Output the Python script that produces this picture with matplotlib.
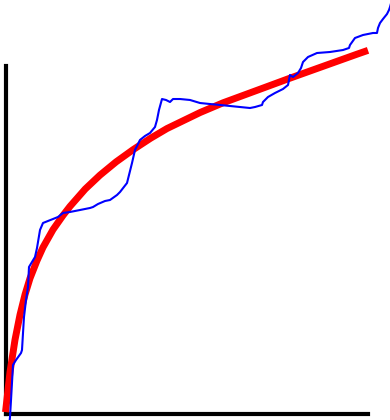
import numpy as np
import matplotlib as mpl
mpl.use('Agg')
import matplotlib.pyplot as plt

# measured series (blue) - runs past the frame on both ends
meas_x = [1.1, 1.24, 1.52, 2.07, 2.90, 4.28, 4.55, 4.83, 5.10, 5.66, 6.21, 6.48, 7.31, 8.14,
          8.69, 9.52, 10.34, 11.72, 13.10, 14.48, 15.86, 17.79, 20.55, 23.31, 24.14,
          25.52, 27.45, 28.83, 30.76, 31.59, 33.52, 34.90, 35.72, 37.10, 38.48, 39.86,
          41.24, 41.79, 42.34, 43.17, 44.28, 45.38, 46.21, 48.14, 50.90, 53.66, 56.41,
          59.17, 61.93, 64.69, 67.45, 68.83, 70.76, 71.03, 72.41, 74.34, 76.55, 77.93,
          78.21, 78.48, 79.31, 80.69, 81.52, 82.07, 83.45, 85.93, 89.52, 93.10, 94.76,
          95.03, 96.41, 98.62, 101.38, 102.48, 102.76, 103.31, 104.14, 105.24, 105.79,
          106.07, 106.6]
meas_y = [-2.5, -1.0, 3.88, 13.96, 15.40, 17.41, 18.27, 23.17, 27.77, 32.66, 36.40, 42.16,
          43.60, 45.04, 47.63, 52.81, 54.82, 55.40, 55.97, 56.55, 57.70, 57.99, 58.56,
          59.14, 59.42, 60.29, 61.15, 61.44, 62.88, 63.74, 66.33, 72.09, 75.83, 78.71,
          79.86, 80.72, 82.45, 84.46, 87.34, 90.50, 90.22, 89.64, 90.50, 90.50, 90.22,
          89.35, 89.06, 88.78, 88.49, 88.20, 87.91, 88.20, 88.78, 89.64, 91.08, 92.23,
          93.38, 94.53, 95.97, 97.41, 96.83, 97.99, 99.42, 101.15, 102.59, 103.74,
          104.03, 104.60, 105.18, 106.04, 108.06, 108.92, 109.50, 109.50, 110.94,
          112.37, 113.53, 114.96, 116.12, 116.98, 119.0]

# trend curve (red)
trend_x = [0, 1.24, 2.62, 4.0, 5.38, 6.76, 8.69, 10.34, 13.1, 15.86, 17.79, 22.0, 26.07,
           30.5, 35.17, 40.0, 44.55, 53.66, 60.0, 69.38, 78.48, 87.59, 96.97, 100.0]
trend_y = [0.4, 11.9, 21.2, 28.4, 34.2, 38.9, 44.0, 47.8, 52.9, 57.0, 59.6, 64.6, 68.6,
           72.4, 75.9, 79.2, 82.0, 86.6, 89.4, 93.0, 96.5, 99.9, 103.4, 104.5]

fig = plt.figure(figsize=(3.9, 4.2), dpi=100)
ax = fig.add_axes([5.5 / 390, 6.5 / 420, 362.5 / 390, 347.5 / 420])

ax.plot(trend_x, trend_y, color='#ff0000', lw=5, solid_capstyle='butt',
        clip_on=False, zorder=3)
ax.plot(meas_x, meas_y, color='#0000ff', lw=1.5, clip_on=False, zorder=4)

ax.set_xlim(0, 100)
ax.set_ylim(0, 100)
for side in ['top', 'right']:
    ax.spines[side].set_visible(False)
for side in ['left', 'bottom']:
    ax.spines[side].set_linewidth(3)
    ax.spines[side].set_color('black')
ax.set_xticks([])
ax.set_yticks([])

plt.savefig('out.png', dpi=100)
plt.close('all')
